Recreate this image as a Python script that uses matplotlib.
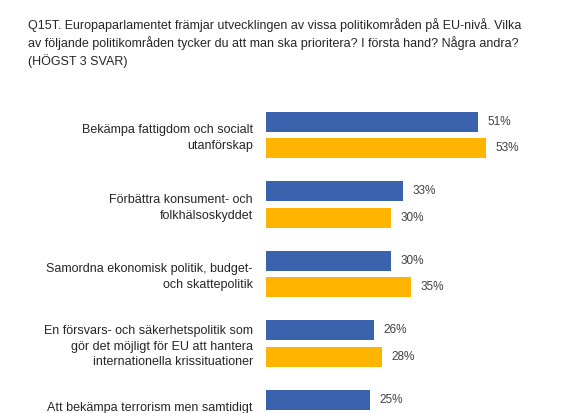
import matplotlib.pyplot as plt

plt.rcParams['font.family'] = ['Liberation Sans', 'DejaVu Sans']

title = ("Q15T. Europaparlamentet främjar utvecklingen av vissa politikområden på EU-nivå. Vilka\n"
         "av följande politikområden tycker du att man ska prioritera? I första hand? Några andra?\n"
         "(HÖGST 3 SVAR)")

categories = [
    "Bekämpa fattigdom och socialt\nutanförskap",
    "Förbättra konsument- och\nfolkhälsoskyddet",
    "Samordna ekonomisk politik, budget-\noch skattepolitik",
    "En försvars- och säkerhetspolitik som\ngör det möjligt för EU att hantera\ninternationella krissituationer",
    "Att bekämpa terrorism men samtidigt\nskydda individens friheter",
]
blue_vals = [51, 33, 30, 26, 25]
orange_vals = [53, 30, 35, 28, 24]

blue = '#3A62AD'
orange = '#FFB400'

W, H = 561, 413
fig = plt.figure(figsize=(W / 100, H / 100), dpi=100)
ax = fig.add_axes([266 / W, 0, 1 - 266 / W, 1])

# pixel scale
px_per_pct = 4.157
px_per_group = 71.0
top_center = 137.8
ax.set_xlim(0, (W - 266) / px_per_pct)
ax.set_ylim((H - top_center) / px_per_group, -top_center / px_per_group)

h = 20.5 / px_per_group
off = 13.4 / px_per_group
pos = list(range(len(categories)))

ax.barh([p - off for p in pos], blue_vals, height=h, color=blue)
ax.barh([p + off for p in pos], orange_vals, height=h, color=orange)

lab_dx = 9.5 / px_per_pct
for p, b, o in zip(pos, blue_vals, orange_vals):
    ax.text(b + lab_dx, p - off, f"{b}%", va='center', ha='left', fontsize=8.5, color='#404040')
    ax.text(o + lab_dx, p + off, f"{o}%", va='center', ha='left', fontsize=8.5, color='#404040')

ax.set_yticks(pos)
ax.set_yticklabels(categories, fontsize=9, color='#262626', linespacing=1.4)
ax.tick_params(axis='y', length=0, pad=9.5)
ax.set_xticks([])
for s in ax.spines.values():
    s.set_visible(False)

fig.text(28 / W, 1 - 18 / H, title, ha='left', va='top', fontsize=9, color='#262626', linespacing=1.38)

fig.savefig('out.png', dpi=100)
